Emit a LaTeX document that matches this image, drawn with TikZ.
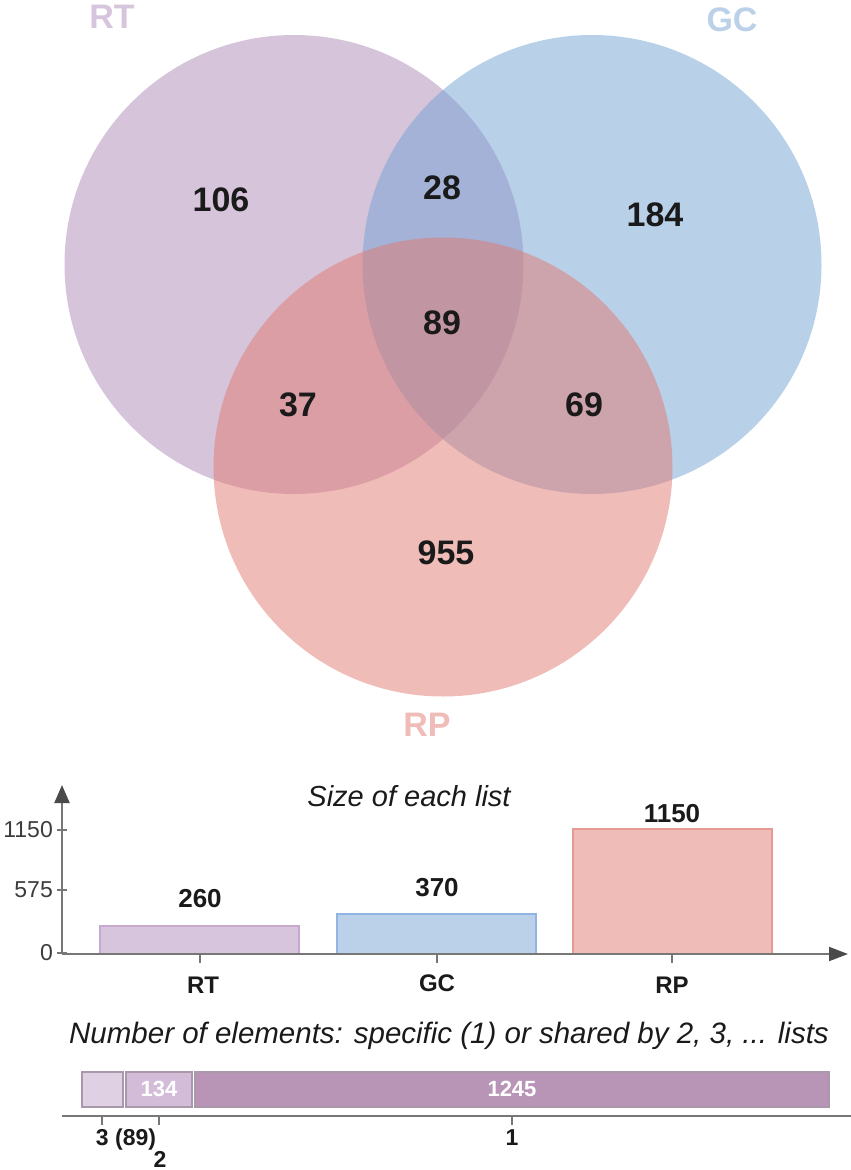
\documentclass[tikz,border=0pt]{standalone}
\usepackage{fontspec}
\setmainfont{Liberation Sans}
\usetikzlibrary{arrows.meta}
\definecolor{rtbase}{HTML}{AB89B5}
\definecolor{gcbase}{HTML}{73A1D3}
\definecolor{rpbase}{HTML}{E17971}
\definecolor{rtlight}{HTML}{D6C5DC}
\definecolor{gclight}{HTML}{BBD1EA}
\definecolor{rplight}{HTML}{F0BCB8}
\definecolor{rtedge}{HTML}{C6A9CC}
\definecolor{gcedge}{HTML}{8FB5E0}
\definecolor{rpedge}{HTML}{E49A93}
\definecolor{axisgray}{HTML}{777777}
\definecolor{tipgray}{HTML}{4A4A4A}
\definecolor{segA}{HTML}{E0D0E4}
\definecolor{segB}{HTML}{D3BCD8}
\definecolor{segC}{HTML}{B895B7}
\definecolor{segedge}{HTML}{A898AA}
\definecolor{txt}{HTML}{1A1A1A}
\tikzset{
  setcircle/.style={circle, inner sep=0pt, outer sep=0pt, minimum size=459pt, fill opacity=0.5},
  num/.style={inner sep=0pt, text=txt, font=\fontsize{34}{34}\selectfont\bfseries},
  setlbl/.style={inner sep=0pt, font=\fontsize{34}{34}\selectfont\bfseries},
  ticklbl/.style={inner sep=0pt, anchor=east, text=txt!85, font=\fontsize{23}{23}\selectfont},
  vallbl/.style={inner sep=0pt, text=txt, font=\fontsize{26}{26}\selectfont\bfseries},
  catlbl/.style={inner sep=0pt, text=txt, font=\fontsize{24}{24}\selectfont\bfseries},
  titlelbl/.style={inner sep=0pt, text=txt, font=\fontsize{29}{29}\selectfont\itshape},
  axisline/.style={draw=axisgray, line width=2pt},
  tickline/.style={draw=axisgray, line width=1.2pt},
  segbox/.style={draw=segedge, line width=1.5pt},
  seglbl/.style={inner sep=0pt, text=white, font=\fontsize{22}{22}\selectfont\bfseries},
  botlbl/.style={inner sep=0pt, text=txt, font=\fontsize{23}{23}\selectfont\bfseries},
}
\begin{document}
\begin{tikzpicture}[x=1pt,y=-1pt]
\useasboundingbox (0,0) rectangle (851,1170);
% Venn circles
\node[setcircle, fill=rtbase] (rt) at (294,264.5) {};
\node[setcircle, fill=gcbase] (gc) at (592,264.5) {};
\node[setcircle, fill=rpbase] (rp) at (443,467) {};
% set labels
\node[setlbl, text=rtlight] (rtl) at (112,17) {RT};
\node[setlbl, text=gclight] (gcl) at (732,20) {GC};
\node[setlbl, text=rplight] (rpl) at (427,725) {RP};
% region counts
\node[num] (n106) at (221,200) {106};
\node[num] (n28) at (442,188) {28};
\node[num] (n184) at (655,215) {184};
\node[num] (n89) at (442,323) {89};
\node[num] (n37) at (298,405) {37};
\node[num] (n69) at (584,405) {69};
\node[num] (n955) at (446,553) {955};
% bar chart
\node[titlelbl, anchor=base] (title1) at (409,806) {Size of each list};
\draw[fill=rtlight, draw=rtedge, line width=1.5pt] (100,926) rectangle (299,954);
\draw[fill=gclight, draw=gcedge, line width=1.5pt] (337,914) rectangle (536,954);
\draw[fill=rplight, draw=rpedge, line width=1.5pt] (573,829) rectangle (772,954);
\coordinate (yo) at (62,954);
\coordinate (ytip) at (62,785);
\coordinate (xtip) at (848,954);
\draw[axisline, -{Triangle[length=18pt,width=15pt,color=tipgray]}] (yo) -- (ytip);
\draw[axisline, -{Triangle[length=19pt,width=14pt,color=tipgray]}] (yo) -- (xtip);
\foreach \yy/\lab in {830/1150, 890/575, 953/0}{
  \draw[tickline] (57,\yy) -- (67,\yy);
  \node[ticklbl] at (53,\yy) {\lab};
}
\foreach \xx in {200,437,672}{
  \draw[tickline] (\xx,954) -- (\xx,963);
}
\node[vallbl] (v260) at (200,899) {260};
\node[vallbl] (v370) at (437,888) {370};
\node[vallbl] (v1150) at (672,814) {1150};
\node[catlbl] (cRT) at (203,985) {RT};
\node[catlbl] (cGC) at (437,983) {GC};
\node[catlbl] (cRP) at (672,985) {RP};
% intersection bar
\node[titlelbl, anchor=base, font=\fontsize{29.5}{29.5}\selectfont\itshape] (title2) at (449,1043) {Number of elements: specific (1) or shared by 2, 3, ... lists};
\draw[segbox, fill=segA] (82,1072) rectangle (123,1107);
\draw[segbox, fill=segB] (126,1072) rectangle (192,1107);
\draw[segbox, fill=segC] (195,1072) rectangle (829,1107);
\node[seglbl] (s134) at (159,1089) {134};
\node[seglbl] (s1245) at (512,1089) {1245};
\coordinate (bo) at (62,1116);
\coordinate (be) at (851,1116);
\draw[axisline] (bo) -- (be);
\foreach \xx in {102,159,512}{
  \draw[tickline] (\xx,1116) -- (\xx,1125);
}
\node[botlbl, anchor=base] (b3) at (126,1145) {3 (89)};
\node[botlbl] (b2) at (160,1159) {2};
\node[botlbl, anchor=base] (b1) at (512,1145) {1};
\end{tikzpicture}
\end{document}
